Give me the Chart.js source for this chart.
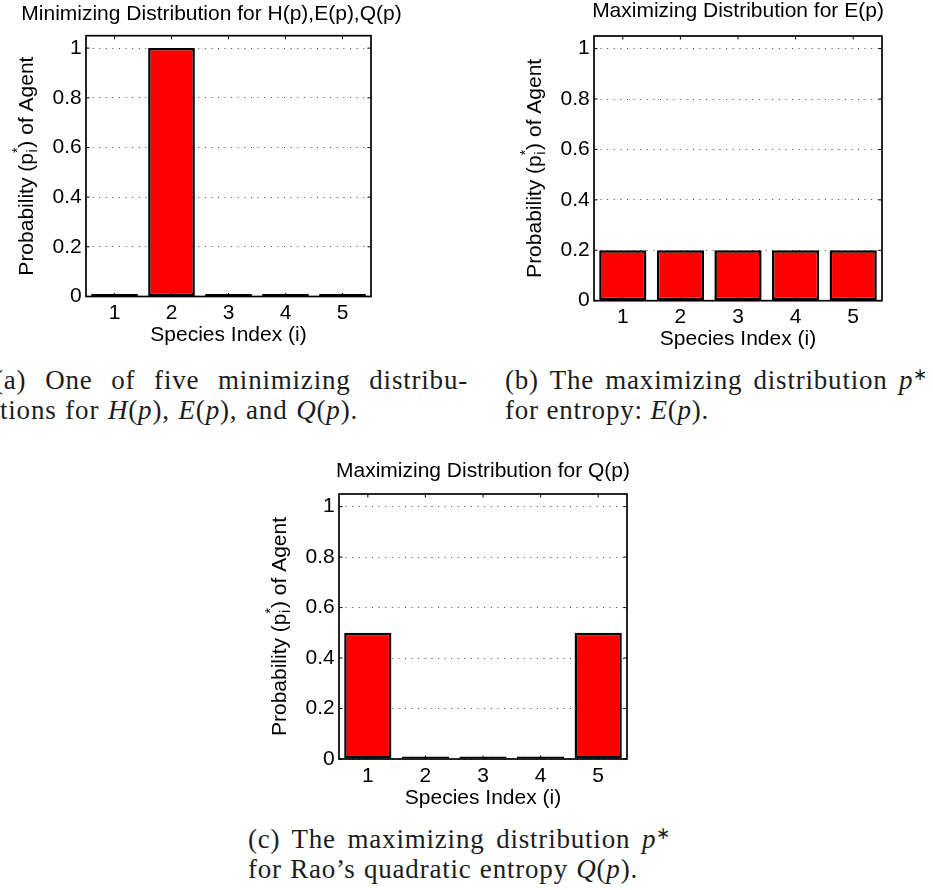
<!DOCTYPE html>
<html>
<head>
<meta charset="utf-8">
<script src="https://cdn.jsdelivr.net/npm/chart.js@4.4.1/dist/chart.umd.min.js"></script>
<style>
  html, body { margin: 0; padding: 0; background: #fff; }
  body { width: 933px; height: 890px; position: relative; overflow: hidden; }
  canvas { position: absolute; }
  .cap { position: absolute; font-family: "Liberation Serif", "Times New Roman", serif; font-size: 27px;
         line-height: 30px; color: #1c1c1c; white-space: nowrap; letter-spacing: 0.8px; }
  .j { text-align: justify; text-align-last: justify; }
  .sup { font-size: 17px; line-height: 0; vertical-align: 9px; }
</style>
</head>
<body>
<canvas id="cA"></canvas>
<canvas id="cB"></canvas>
<canvas id="cC"></canvas>

<div class="cap j" style="left:-6px;top:365px;width:474px">(a) One of five minimizing distribu-</div>
<div class="cap j" style="left:0px;top:395px;width:358px">tions for <i>H</i>(<i>p</i>), <i>E</i>(<i>p</i>), and <i>Q</i>(<i>p</i>).</div>
<div class="cap j" style="left:505px;top:365px;width:423px">(b) The maximizing distribution <i>p</i><span class="sup">∗</span></div>
<div class="cap j" style="left:505px;top:395px;width:165px">for entropy: <i>E</i>(<i>p</i>).</div>
<div class="cap j" style="left:248px;top:824px;width:423px">(c) The maximizing distribution <i>p</i><span class="sup">∗</span></div>
<div class="cap j" style="left:248px;top:854px;width:390px">for Rao’s quadratic entropy <i>Q</i>(<i>p</i>).</div>

<script>
// ---------------- data ----------------
const categories = ['1', '2', '3', '4', '5'];
const minimizingValues = [0, 1, 0, 0, 0];
const entropyMaxValues = [0.2, 0.2, 0.2, 0.2, 0.2];
const raoMaxValues = [0.5, 0, 0, 0, 0.5];
const yTickValues = [0, 0.2, 0.4, 0.6, 0.8, 1];
const yTickLabels = ['0', '0.2', '0.4', '0.6', '0.8', '1'];
const yAxisMin = 0;
const yAxisMax = 1.05;
const chartTitles = [
  'Minimizing Distribution for H(p),E(p),Q(p)',
  'Maximizing Distribution for E(p)',
  'Maximizing Distribution for Q(p)'
];
const xAxisTitle = 'Species Index (i)';
const yAxisTitleParts = { before: 'Probability (p', sub: 'i', sup: '*', after: ') of Agent' };

// ---------------- layout (page pixels) ----------------
const FONT = '"Liberation Sans", Arial, Helvetica, sans-serif';
const FS = 21;
const panels = [
  { id: 'cA', values: minimizingValues, title: chartTitles[0], top: 0,
    area: { l: 86,  t: 35.7, r: 371, b: 296.5 }, yW: 86, yR: 52, titleMid: 14.4 },
  { id: 'cB', values: entropyMaxValues, title: chartTitles[1], top: 0,
    area: { l: 594, t: 36,   r: 882, b: 300.7 }, yW: 90, yR: 90, titleMid: 11.7 },
  { id: 'cC', values: raoMaxValues,     title: chartTitles[2], top: 455,
    area: { l: 339, t: 494,  r: 627, b: 759 },   yW: 90, yR: 90, titleMid: 471.7 }
];
const X_AXIS_H = 49.4;

Chart.defaults.font.family = FONT;
Chart.defaults.font.size = FS;
Chart.defaults.color = '#000';

const matlabAxesPlugin = {
  id: 'matlabAxes',
  afterDraw(chart) {
    const { ctx, chartArea: a, scales: { x, y } } = chart;
    ctx.save();
    ctx.strokeStyle = '#000';
    ctx.lineWidth = 1;
    const tl = 3.5;
    const seg = (x1, y1, x2, y2) => { ctx.beginPath(); ctx.moveTo(x1, y1); ctx.lineTo(x2, y2); ctx.stroke(); };
    x.ticks.forEach((t, i) => {
      const px = x.getPixelForTick(i);
      seg(px, a.bottom, px, a.bottom - tl);
      seg(px, a.top, px, a.top + tl);
    });
    y.ticks.forEach((t, i) => {
      const py = y.getPixelForTick(i);
      seg(a.left, py, a.left + tl, py);
      seg(a.right, py, a.right - tl, py);
    });
    ctx.lineWidth = 1.7;
    ctx.strokeRect(a.left, a.top, a.right - a.left, a.bottom - a.top);

    // y axis title with subscript / superscript
    const p = yAxisTitleParts;
    const big = FS, small = 14;
    ctx.fillStyle = '#000';
    ctx.translate(a.left - 60.5, (a.top + a.bottom) / 2);
    ctx.rotate(-Math.PI / 2);
    ctx.textAlign = 'left';
    ctx.textBaseline = 'alphabetic';
    const setF = s => { ctx.font = s + 'px ' + FONT; };
    setF(big);
    const w1 = ctx.measureText(p.before).width;
    const w4 = ctx.measureText(p.after).width;
    setF(small);
    const wm = Math.max(ctx.measureText(p.sub).width, ctx.measureText(p.sup).width);
    let cx = -(w1 + wm + w4) / 2;
    const base = 7.3;
    setF(big); ctx.fillText(p.before, cx, base); cx += w1;
    setF(small); ctx.fillText(p.sub, cx + 0.5, base + 4); ctx.fillText(p.sup, cx, base - 10.5); cx += wm;
    setF(big); ctx.fillText(p.after, cx, base);
    ctx.restore();
  }
};

panels.forEach(pn => {
  const cv = document.getElementById(pn.id);
  const left = pn.area.l - pn.yW;
  const W = Math.ceil(pn.area.r + pn.yR - left);
  const H = pn.area.b - pn.top + X_AXIS_H;
  const Hc = Math.ceil(H);
  cv.width = W; cv.height = Hc;
  cv.style.left = left + 'px'; cv.style.top = pn.top + 'px';
  cv.style.width = W + 'px'; cv.style.height = Hc + 'px';
  const padR = W - (pn.area.r + pn.yR - left);
  const tPadTop = (pn.titleMid - pn.top) - FS / 2;
  const tPadBot = (pn.area.t - pn.top) - FS - tPadTop;
  const padB = Hc - H;

  new Chart(cv, {
    type: 'bar',
    data: {
      labels: categories,
      datasets: [{
        data: pn.values,
        backgroundColor: '#ff0000',
        borderColor: '#000000',
        borderWidth: 2.5,
        borderSkipped: false,
        barPercentage: 0.82,
        categoryPercentage: 1.0,
        minBarLength: 2.5
      }]
    },
    options: {
      responsive: false,
      devicePixelRatio: 1,
      animation: false,
      layout: { padding: { left: 0, right: padR, top: 0, bottom: padB } },
      plugins: {
        legend: { display: false },
        tooltip: { enabled: false },
        title: {
          display: true, text: pn.title, align: 'center', color: '#000',
          font: { family: FONT, size: FS, weight: 'normal', lineHeight: 1.0 },
          padding: { top: tPadTop, bottom: tPadBot }
        }
      },
      scales: {
        x: {
          type: 'category',
          offset: true,
          grid: { display: false, drawTicks: false },
          border: { display: false },
          ticks: { padding: 4.3, maxRotation: 0, minRotation: 0, color: '#000', font: { size: FS } },
          title: { display: true, text: xAxisTitle, color: '#000', padding: 0,
                   font: { size: FS, lineHeight: 1.0 } },
          afterFit: s => { s.height = X_AXIS_H; }
        },
        y: {
          min: yAxisMin, max: yAxisMax,
          grid: { color: '#444', lineWidth: 1, drawTicks: false },
          border: { display: false, dash: [1, 5.6] },
          ticks: {
            padding: 4.3, color: '#000', font: { size: FS }, includeBounds: false,
            callback: (v, i) => yTickLabels[i]
          },
          afterBuildTicks: s => { s.ticks = yTickValues.map(v => ({ value: v })); },
          afterFit: s => { s.width = pn.yW; }
        },
        yRight: {
          type: 'linear', position: 'right', display: true,
          grid: { display: false, drawTicks: false },
          border: { display: false },
          ticks: { display: false },
          afterFit: s => { s.width = pn.yR; }
        }
      }
    },
    plugins: [matlabAxesPlugin]
  });
});
</script>
</body>
</html>
